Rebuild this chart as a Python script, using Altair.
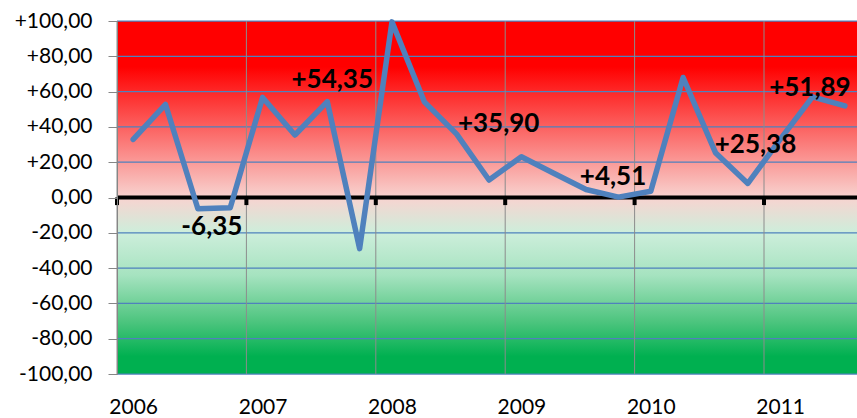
import altair as alt
import pandas as pd

# Quarterly series, 2006 Q1 .. 2011 Q3
years = [2006, 2007, 2008, 2009, 2010, 2011]
quarter_values = [
    32.9, 52.7, -6.35, -5.8,
    56.7, 35.4, 54.35, -29.0,
    99.5, 54.2, 35.90, 9.9,
    23.1, 13.7, 4.51, 0.2,
    3.5, 68.0, 25.38, 8.0,
    33.0, 57.0, 51.89,
]
y_ticks = [-100, -80, -60, -40, -20, 0, 20, 40, 60, 80, 100]

# the third quarter of every year carries a value label
label_quarter = 3
# (dx, dy) nudges for those labels, in pixels
label_nudges = [(14, 26), (5, -14), (42, -2), (27, -5), (40, 0), (-35, -10)]

W, H = 740, 353
QUARTER_PX = 32.35
first_year = years[0]

points = pd.DataFrame({"i": list(range(len(quarter_values))), "v": quarter_values})
bounds = pd.DataFrame({"year": years})
grid = pd.DataFrame({"v": y_ticks})

x_scale = alt.Scale(domain=[-0.5, W / QUARTER_PX - 0.5], nice=False, zero=False)
y_scale = alt.Scale(domain=[-100, 100], nice=False, zero=False)


def signed(field):
    return (
        f"({field} < 0 ? '-' : {field} > 0 ? '+' : '') + "
        f"replace(format(abs({field}), '.2f'), '.', ',')"
    )


x_axis = alt.Axis(
    values=[(yr - first_year) * 4 for yr in years],
    labelExpr=f"'' + ({first_year} + datum.value / 4)",
    title=None, domain=False, ticks=False, tickSize=0, grid=False,
    labelFont="Lato", labelFontSize=21, labelColor="black",
    labelBaseline="alphabetic",
    labelPadding=39, labelAngle=0, labelFlush=False, labelOverlap=False,
)
y_axis = alt.Axis(
    values=y_ticks, labelExpr=signed("datum.value"),
    title=None, grid=False,
    domain=True, domainColor="#868686", domainWidth=1,
    ticks=True, tickColor="#868686", tickSize=9, tickWidth=1,
    labelFont="Lato", labelFontSize=21, labelColor="black",
    labelPadding=16, labelFlush=False, labelOverlap=False, zindex=1,
)

X = lambda f: alt.X(f, scale=x_scale, axis=x_axis)
Y = lambda f: alt.Y(f, scale=y_scale, axis=y_axis)

# red-to-green backdrop of the plot area
backdrop = {
    "gradient": "linear", "x1": 0, "y1": 0, "x2": 0, "y2": 1,
    "stops": [
        {"offset": 0.0, "color": "#FF0000"},
        {"offset": 0.13, "color": "#FF0000"},
        {"offset": 0.5, "color": "#F8D3D0"},
        {"offset": 0.6, "color": "#CDEEDB"},
        {"offset": 0.72, "color": "#A6E3C0"},
        {"offset": 0.85, "color": "#4EC57F"},
        {"offset": 0.95, "color": "#00B050"},
        {"offset": 1.0, "color": "#00B050"},
    ],
}
bg = alt.Chart(alt.Data(values=[{}])).mark_rect(fill=backdrop).encode(
    x=alt.value(0), x2=alt.value(W), y=alt.value(0), y2=alt.value(H)
)

hgrid = alt.Chart(grid).mark_rule(color="#4F81BD", strokeWidth=1.25).encode(y=Y("v:Q"))

year_b = f"(datum.year - {first_year}) * 4 - 0.5"
vgrid = (
    alt.Chart(bounds)
    .transform_calculate(b=year_b)
    .mark_rule(color="#8C8C8C", strokeWidth=1)
    .encode(x=X("b:Q"), y=alt.value(0), y2=alt.value(H))
)

zero = (
    alt.Chart(grid)
    .transform_filter("datum.v == 0")
    .mark_rule(color="black", strokeWidth=4)
    .encode(y=Y("v:Q"))
)

year_ticks = (
    alt.Chart(bounds)
    .transform_calculate(b=year_b, top="0", bot="-4.3")
    .mark_rule(color="black", strokeWidth=4)
    .encode(x=X("b:Q"), y=Y("top:Q"), y2="bot:Q")
)

line = alt.Chart(points).mark_line(
    color="#4F81BD", strokeWidth=5.5, strokeJoin="round", strokeCap="round"
).encode(x=X("i:Q"), y=Y("v:Q"))

labels = []
for k, (dx, dy) in enumerate(label_nudges):
    idx = k * 4 + label_quarter - 1
    labels.append(
        alt.Chart(points)
        .transform_filter(f"datum.i == {idx}")
        .transform_calculate(t=signed("datum.v"))
        .mark_text(
            font="Lato", fontSize=26, fontWeight="bold", color="black",
            align="center", baseline="alphabetic", dx=dx, dy=dy,
        )
        .encode(x=X("i:Q"), y=Y("v:Q"), text="t:N")
    )

chart = (
    alt.layer(bg, hgrid, vgrid, zero, year_ticks, line, *labels)
    .properties(
        width=W, height=H,
        padding={"left": 117, "top": 21, "right": 0, "bottom": 44},
        autosize=alt.AutoSizeParams(type="none"),
    )
    .configure_view(stroke=None)
)

chart.save("out.html", embed_options={"renderer": "svg", "actions": False})
